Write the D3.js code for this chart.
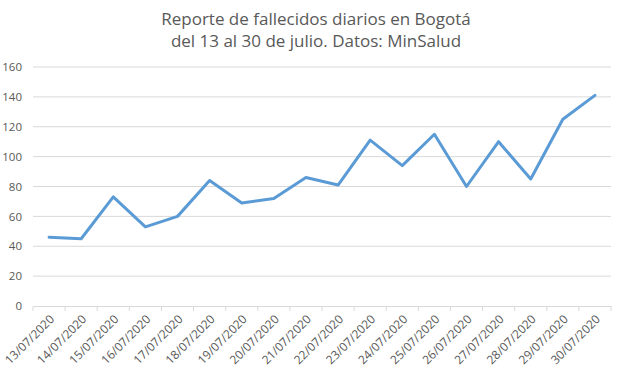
<!DOCTYPE html>
<html>
<head>
<meta charset="utf-8">
<script src="https://cdn.jsdelivr.net/npm/d3@7"></script>
<style>
  body { margin: 0; background: #fff; }
  svg { font-family: "Open Sans", "Liberation Sans", sans-serif; }
</style>
</head>
<body>
<svg width="621" height="369"></svg>
<script>
// data
const dates = ["13/07/2020", "14/07/2020", "15/07/2020", "16/07/2020", "17/07/2020", "18/07/2020",
    "19/07/2020", "20/07/2020", "21/07/2020", "22/07/2020", "23/07/2020", "24/07/2020",
    "25/07/2020", "26/07/2020", "27/07/2020", "28/07/2020", "29/07/2020", "30/07/2020"];
const deaths = [46, 45, 73, 53, 60, 84, 69, 72, 86, 81, 111, 94, 115, 80, 110, 85, 125, 141];
const yTicks = [0, 20, 40, 60, 80, 100, 120, 140, 160];
const titleLines = ["Reporte de fallecidos diarios en Bogotá", "del 13 al 30 de julio. Datos: MinSalud"];

const svg = d3.select("svg");
const plotLeft = 33, plotRight = 611, plotTop = 67, plotBottom = 306;

// title
svg.append("g").selectAll("text")
    .data(titleLines)
    .enter().append("text")
    .attr("x", 316)
    .attr("y", (d, i) => 25 + i * 22)
    .attr("text-anchor", "middle")
    .attr("font-size", "17px")
    .attr("fill", "#595959")
    .text(d => d);

const x = d3.scaleBand().domain(dates).range([plotLeft, plotRight]);
const y = d3.scaleLinear().domain([0, 160]).range([plotBottom, plotTop]);

// gridlines
svg.append("g").selectAll("line")
    .data(yTicks.filter(d => d > 0))
    .enter().append("line")
    .attr("x1", plotLeft).attr("x2", plotRight)
    .attr("y1", d => y(d)).attr("y2", d => y(d))
    .attr("stroke", "#d9d9d9");

// y axis labels
const yAxis = svg.append("g")
    .attr("transform", "translate(" + plotLeft + ",0)")
    .call(d3.axisLeft(y).tickValues(yTicks).tickSize(0).tickPadding(11));
yAxis.select(".domain").remove();
yAxis.selectAll("text").attr("font-size", "11.5px").attr("fill", "#595959")
    .attr("font-family", "'Open Sans', sans-serif");

// x axis
const xAxis = svg.append("g")
    .attr("transform", "translate(0," + plotBottom + ")")
    .call(d3.axisBottom(x).tickSize(0));
xAxis.select(".domain").attr("stroke", "#d9d9d9");
xAxis.selectAll(".tick line").remove();
xAxis.selectAll(".sep")
    .data(dates.concat(["end"]))
    .enter().append("line")
    .attr("class", "sep")
    .attr("x1", (d, i) => i < dates.length ? x(d) : plotRight)
    .attr("x2", (d, i) => i < dates.length ? x(d) : plotRight)
    .attr("y1", 0).attr("y2", 5)
    .attr("stroke", "#d9d9d9");
xAxis.selectAll("text")
    .attr("font-size", "12px")
    .attr("fill", "#595959")
    .attr("font-family", "'Open Sans', sans-serif")
    .attr("text-anchor", "end")
    .attr("dy", null)
    .attr("y", 0)
    .attr("transform", "translate(6,14) rotate(-45)");

// line
const line = d3.line()
    .x((d, i) => x(dates[i]) + x.bandwidth() / 2)
    .y(d => y(d));

svg.append("path")
    .datum(deaths)
    .attr("d", line)
    .attr("fill", "none")
    .attr("stroke", "#5b9bd5")
    .attr("stroke-width", 3)
    .attr("stroke-linejoin", "round")
    .attr("stroke-linecap", "round");
</script>
</body>
</html>
